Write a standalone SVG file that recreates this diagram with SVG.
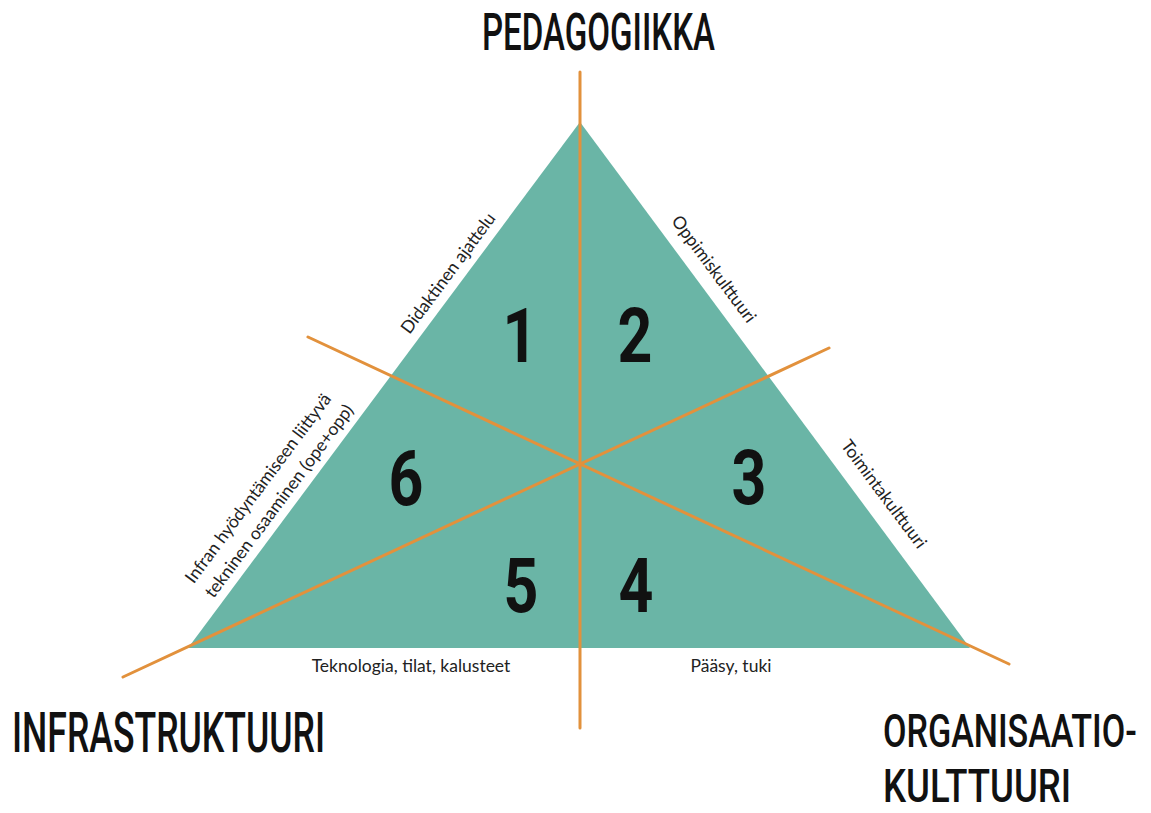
<svg xmlns="http://www.w3.org/2000/svg" width="1151" height="813" viewBox="0 0 1151 813">
<style>
.title{font-family:"Roboto","DejaVu Sans",sans-serif;font-weight:500;fill:#111;}
.num{font-family:"Roboto","DejaVu Sans",sans-serif;font-weight:700;font-size:76px;fill:#111;text-anchor:middle;}
.lbl{font-family:"Lato","Open Sans",sans-serif;font-size:17.5px;fill:#222;text-anchor:middle;}
.axis{stroke:#e2913c;stroke-width:3;stroke-linecap:round;fill:none;}
</style>
<rect width="1151" height="813" fill="#ffffff"/>
<g id="triangle">
<polygon points="580,122 188,648 970,648" fill="#6ab5a6"/>
</g>
<g id="connectors">
<line class="axis" x1="580" y1="72" x2="580" y2="728"/>
<line class="axis" x1="308" y1="337" x2="1009" y2="664"/>
<line class="axis" x1="123" y1="677" x2="829" y2="348"/>
</g>
<g id="sectors">
<g id="s1"><text class="num" transform="translate(520,362) scale(0.8,1)">1</text></g>
<g id="s2"><text class="num" transform="translate(635,362) scale(0.8,1)">2</text></g>
<g id="s3"><text class="num" transform="translate(749,504) scale(0.8,1)">3</text></g>
<g id="s4"><text class="num" transform="translate(636,612) scale(0.8,1)">4</text></g>
<g id="s5"><text class="num" transform="translate(521,612) scale(0.8,1)">5</text></g>
<g id="s6"><text class="num" transform="translate(406,505) scale(0.8,1)">6</text></g>
</g>
<g id="edge-labels">
<text class="lbl" transform="translate(448,273) rotate(-53.3)" dy="0.35em">Didaktinen ajattelu</text>
<text class="lbl" transform="translate(714,269) rotate(53.3)" dy="0.35em">Oppimiskulttuuri</text>
<text class="lbl" transform="translate(884,494) rotate(53.3)" dy="0.35em">Toimintakulttuuri</text>
<text class="lbl" transform="translate(258,488) rotate(-53.3)" dy="0.35em">Infran hyödyntämiseen liittyvä</text>
<text class="lbl" transform="translate(279,501) rotate(-53.3)" dy="0.35em">tekninen osaaminen (ope+opp)</text>
<text class="lbl" x="411" y="672">Teknologia, tilat, kalusteet</text>
<text class="lbl" x="731" y="672">Pääsy, tuki</text>
</g>
<g id="pedagogiikka"><text class="title" transform="translate(482,50) scale(0.633,1)" font-size="52" textLength="368" lengthAdjust="spacingAndGlyphs">PEDAGOGIIKKA</text></g>
<g id="infrastruktuuri"><text class="title" transform="translate(12,752) scale(0.63,1)" font-size="56" textLength="497" lengthAdjust="spacingAndGlyphs">INFRASTRUKTUURI</text></g>
<g id="organisaatiokulttuuri">
<text class="title" transform="translate(883,747) scale(0.74,1)" font-size="46" textLength="343" lengthAdjust="spacingAndGlyphs">ORGANISAATIO-</text>
<text class="title" transform="translate(883,801.5) scale(0.774,1)" font-size="46" textLength="243" lengthAdjust="spacingAndGlyphs">KULTTUURI</text>
</g>
</svg>
